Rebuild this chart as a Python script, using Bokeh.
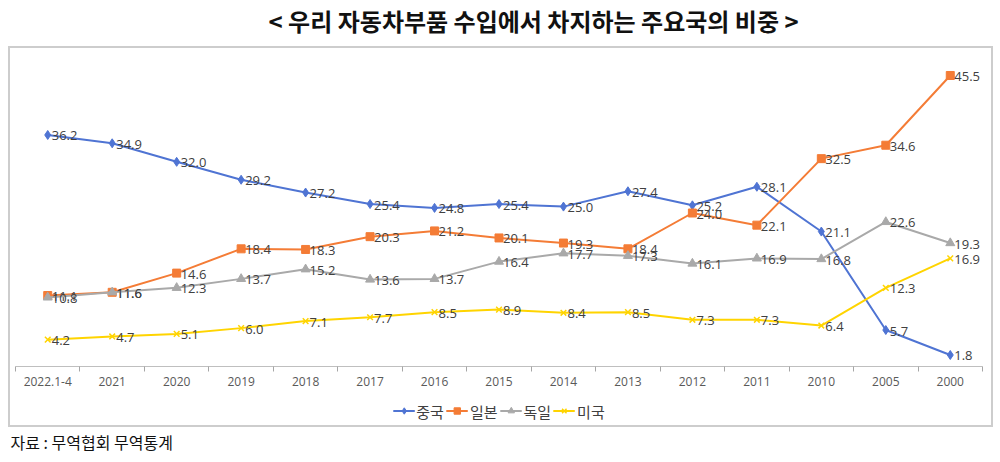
from bokeh.plotting import figure
from bokeh.layouts import column, row
from bokeh.models import (FixedTicker, Legend, LegendItem, Range1d, Spacer)
from bokeh.embed import file_html
from bokeh.resources import INLINE
from bokeh.core.properties import value

title_text = "< 우리 자동차부품 수입에서 차지하는 주요국의 비중 >"
source_text = "자료 : 무역협회 무역통계"
categories = ["2022.1-4", "2021", "2020", "2019", "2018", "2017", "2016", "2015",
              "2014", "2013", "2012", "2011", "2010", "2005", "2000"]
china = [36.2, 34.9, 32.0, 29.2, 27.2, 25.4, 24.8, 25.4, 25.0, 27.4, 25.2, 28.1, 21.1, 5.7, 1.8]
japan = [11.1, 11.6, 14.6, 18.4, 18.3, 20.3, 21.2, 20.1, 19.3, 18.4, 24.0, 22.1, 32.5, 34.6, 45.5]
germany = [10.8, 11.6, 12.3, 13.7, 15.2, 13.6, 13.7, 16.4, 17.7, 17.3, 16.1, 16.9, 16.8, 22.6, 19.3]
usa = [4.2, 4.7, 5.1, 6.0, 7.1, 7.7, 8.5, 8.9, 8.4, 8.5, 7.3, 7.3, 6.4, 12.3, 16.9]
series_names = ["중국", "일본", "독일", "미국"]

series = [china, japan, germany, usa]
colors = ["#4F74D3", "#F47C36", "#A9A9A9", "#FFD400"]
markers = ["diamond", "square", "triangle", "x"]
sizes = [9, 8, 9, 8]

n = len(categories)
xs = list(range(n))


def blank(p):
    p.xgrid.visible = False
    p.ygrid.visible = False
    p.outline_line_color = None
    return p


# ---- title figure ----
pt = blank(figure(width=992, height=46, output_backend="svg", toolbar_location=None,
                  x_axis_location=None, y_axis_location=None,
                  min_border_left=0, min_border_right=0, min_border_top=0, min_border_bottom=0))
pt.title.text = title_text
pt.title.align = "left"
pt.title.offset = 268
pt.title.standoff = 0
pt.title.text_font = "Noto Sans CJK KR"
pt.title.text_font_size = "24px"
pt.title.text_font_style = "bold"
pt.title.text_color = "#111111"

# ---- main chart figure ----
p = blank(figure(width=981, height=348, output_backend="svg", toolbar_location=None,
                 x_range=Range1d(-0.5, n - 0.5), y_range=Range1d(0, 48),
                 min_border_left=5, min_border_right=9, min_border_top=11, min_border_bottom=30,
                 y_axis_location=None))

ax = p.xaxis[0]
ax.ticker = FixedTicker(ticks=xs, minor_ticks=[i - 0.5 for i in range(n + 1)])
ax.major_label_overrides = {i: c for i, c in enumerate(categories)}
ax.major_tick_line_color = None
ax.major_tick_out = 5
ax.major_tick_in = 0
ax.minor_tick_out = 5
ax.minor_tick_in = 0
ax.minor_tick_line_color = "#a6a6a6"
ax.axis_line_color = "#bfbfbf"
ax.axis_line_width = 1
ax.major_label_text_font = "Open Sans"
ax.major_label_text_font_size = "12px"
ax.major_label_text_color = "#595959"
ax.major_label_standoff = 5

for name, vals, col, mk, sz in zip(series_names, series, colors, markers, sizes):
    p.line(xs, vals, line_color=col, line_width=2)
    p.scatter(xs, vals, marker=mk, size=sz, fill_color=col, line_color=col,
              line_width=1.5 if mk == "x" else 1)
    p.text(xs, vals, text=[f"{v:.1f}" for v in vals], x_offset=4, y_offset=1,
           text_baseline="middle", text_align="left", text_font=value("Open Sans"),
           text_font_size="13px", text_color="#404040")

# ---- legend strip (inside the same box); series drawn out of view, legend only ----
pl = blank(figure(width=981, height=29, output_backend="svg", toolbar_location=None,
                  x_range=Range1d(n + 10, n + 11), y_range=Range1d(-2, -1),
                  x_axis_location=None, y_axis_location=None,
                  min_border_left=0, min_border_right=0, min_border_top=0, min_border_bottom=0))
items = []
for name, vals, col, mk, sz in zip(series_names, series, colors, markers, sizes):
    lr = pl.line(xs, vals, line_color=col, line_width=2)
    sr = pl.scatter(xs, vals, marker=mk, size=sz - 1, fill_color=col, line_color=col,
                    line_width=1.5 if mk == "x" else 1)
    items.append(LegendItem(label=name, renderers=[lr, sr]))
legend = Legend(items=items, orientation="horizontal", location="center",
                border_line_color=None, background_fill_alpha=0,
                label_text_font="Noto Sans CJK KR", label_text_font_size="15px",
                label_text_color="#404040",
                glyph_width=22, glyph_height=16, spacing=2, label_standoff=2,
                padding=0, margin=0)
pl.add_layout(legend, "center")

box = column(p, pl, spacing=0, styles={"border": "2px solid #cdcdcd"})

# ---- source figure ----
ps = blank(figure(width=992, height=34, output_backend="svg", toolbar_location=None,
                  x_axis_location=None, y_axis_location=None,
                  min_border_left=0, min_border_right=0, min_border_top=26, min_border_bottom=0))
ps.title.text = source_text
ps.title.align = "left"
ps.title.offset = 10
ps.title.standoff = 0
ps.title.text_font = "Noto Sans CJK KR"
ps.title.text_font_size = "16px"
ps.title.text_font_style = "normal"
ps.title.text_color = "#111111"

layout = column(pt, row(Spacer(width=8, height=381), box, spacing=0), ps, spacing=0)
open("out.html", "w").write(file_html(layout, INLINE))
